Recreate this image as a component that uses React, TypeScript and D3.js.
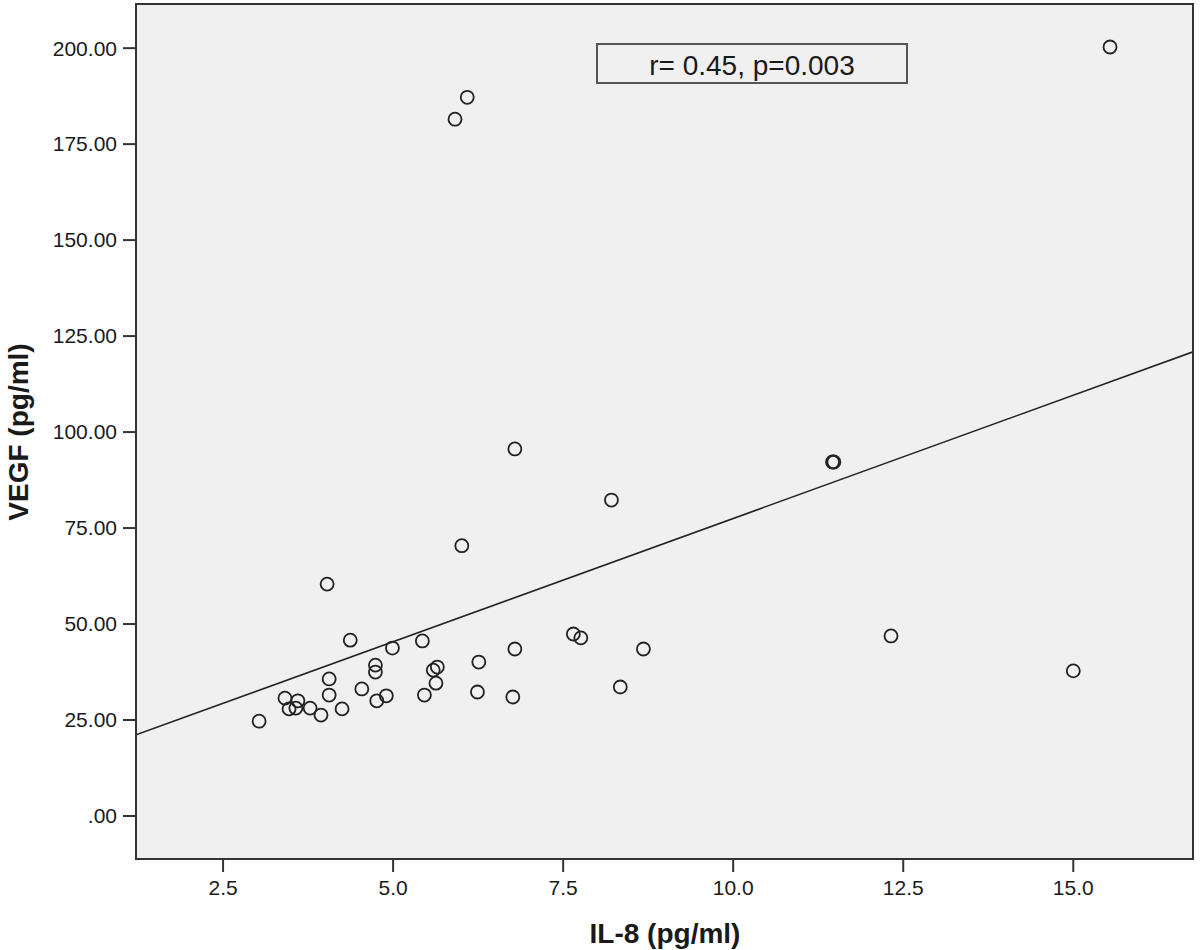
import React from "react";
import * as d3 from "d3";

// IL-8 (pg/ml)
const il8: number[] = [
  15.54, 6.09, 5.91, 6.79, 8.21, 11.46, 11.48, 6.01, 4.03,
  3.03, 4.37, 4.99, 5.43, 4.74, 4.74, 4.06, 4.06, 3.41, 3.6, 3.47, 3.57, 3.78,
  3.94, 4.25, 4.54, 4.76, 4.9, 5.46, 5.63, 5.59, 5.65,
  6.26, 6.24, 6.79, 6.76, 7.65, 7.76, 8.68, 8.34, 12.32, 15.0,
];
// VEGF (pg/ml)
const vegf: number[] = [
  200.3, 187.2, 181.5, 95.6, 82.3, 92.2, 92.2, 70.4, 60.4,
  24.7, 45.8, 43.75, 45.6, 39.3, 37.5, 35.7, 31.5, 30.7, 30.0, 27.9, 28.1, 28.1,
  26.3, 27.9, 33.1, 30.0, 31.3, 31.5, 34.6, 38.0, 38.8,
  40.1, 32.3, 43.5, 31.0, 47.4, 46.4, 43.5, 33.6, 46.9, 37.8,
];

const xTicks: number[] = [2.5, 5.0, 7.5, 10.0, 12.5, 15.0];
const yTicks: number[] = [0, 25, 50, 75, 100, 125, 150, 175, 200];

const fitIntercept = 13.3;
const fitSlope = 6.42;

const annotation = "r= 0.45, p=0.003";
const xTitle = "IL-8 (pg/ml)";
const yTitle = "VEGF (pg/ml)";

export default function App() {
  const W = 1200;
  const H = 950;
  const left = 136, right = 1193, top = 4, bottom = 859;

  const x = d3.scaleLinear().domain([1.22, 16.76]).range([left, right]);
  const y = d3.scaleLinear().domain([-11.2, 211.5]).range([bottom, top]);

  const [xd0, xd1] = x.domain();
  const line = d3.line<number>()
    .x((v) => x(v))
    .y((v) => y(fitIntercept + fitSlope * v));

  const font = "'Liberation Sans', Arial, sans-serif";
  const yFmt = (v: number) => (v === 0 ? ".00" : v.toFixed(2));

  return (
    <svg
      width={W}
      height={H}
      style={{ position: "absolute", left: 0, top: 0, display: "block", background: "#fff" }}
      fontFamily={font}
    >
      <defs>
        <clipPath id="plotclip">
          <rect x={left} y={top} width={right - left} height={bottom - top} />
        </clipPath>
      </defs>
      <rect x={left} y={top} width={right - left} height={bottom - top} fill="#f0f0f0" />

      {/* regression line */}
      <path
        d={line([xd0, xd1]) || ""}
        fill="none"
        stroke="#222"
        strokeWidth={1.6}
        clipPath="url(#plotclip)"
      />

      {/* points */}
      {il8.map((v, i) => (
        <circle
          key={i}
          cx={x(v)}
          cy={y(vegf[i])}
          r={6.5}
          fill="none"
          stroke="#222"
          strokeWidth={1.8}
        />
      ))}

      {/* frame */}
      <rect x={left} y={top} width={right - left} height={bottom - top} fill="none" stroke="#333" strokeWidth={2} />

      {/* y ticks */}
      {yTicks.map((t) => (
        <g key={"y" + t}>
          <line x1={left - 13} x2={left} y1={y(t)} y2={y(t)} stroke="#333" strokeWidth={2} />
          <text x={left - 19} y={y(t)} dy="0.35em" textAnchor="end" fontSize={21} fill="#1a1a1a">
            {yFmt(t)}
          </text>
        </g>
      ))}

      {/* x ticks */}
      {xTicks.map((t) => (
        <g key={"x" + t}>
          <line x1={x(t)} x2={x(t)} y1={bottom} y2={bottom + 13} stroke="#333" strokeWidth={2} />
          <text x={x(t)} y={bottom + 29} dy="0.35em" textAnchor="middle" fontSize={21} fill="#1a1a1a">
            {t.toFixed(1)}
          </text>
        </g>
      ))}

      {/* annotation box */}
      <rect x={597} y={44} width={310} height={39} fill="#f0f0f0" stroke="#555" strokeWidth={2} />
      <text x={752} y={65} dy="0.35em" textAnchor="middle" fontSize={28} fill="#1a1a1a">
        {annotation}
      </text>

      {/* axis titles */}
      <text x={665} y={943} textAnchor="middle" fontSize={28} fontWeight="bold" fill="#1a1a1a">
        {xTitle}
      </text>
      <text
        transform={`translate(28, ${432}) rotate(-90)`}
        textAnchor="middle"
        fontSize={28}
        fontWeight="bold"
        fill="#1a1a1a"
      >
        {yTitle}
      </text>
    </svg>
  );
}
